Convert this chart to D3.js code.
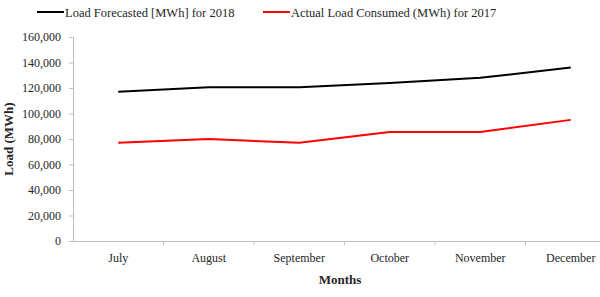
<!DOCTYPE html>
<html>
<head>
<meta charset="utf-8">
<script src="https://cdn.jsdelivr.net/npm/d3@7"></script>
<style>
body { margin: 0; background: #fff; }
text { font-family: "Liberation Serif", "DejaVu Serif", serif; fill: #262626; }
</style>
</head>
<body>
<div id="chart"></div>
<script>
var months = ["July", "August", "September", "October", "November", "December"]
var forecast2018 = [117000, 120500, 120500, 124000, 128000, 136000]
var actual2017 = [77000, 80000, 77000, 85500, 85500, 95000]
var yTicks = [0, 20000, 40000, 60000, 80000, 100000, 120000, 140000, 160000]

var w = 600, h = 297
var margin = {top: 37, right: -16, bottom: 56, left: 73}
var width = w - margin.left - margin.right
var height = h - margin.top - margin.bottom

var svg = d3.select("#chart").append("svg")
  .attr("width", w)
  .attr("height", h)

var g = svg.append("g")
  .attr("transform", "translate(" + margin.left + "," + margin.top + ")")

var x = d3.scaleBand().domain(months).range([0, width])
var y = d3.scaleLinear().domain([0, 160000]).range([height, 0])

// y axis
var yAxis = g.append("g")
  .call(d3.axisLeft(y).tickValues(yTicks).tickSize(4).tickFormat(d3.format(",")))
yAxis.attr("font-family", null)
yAxis.selectAll("path, line").attr("stroke", "#bfbfbf")
yAxis.selectAll("text").attr("font-size", 12).attr("dx", "-5px").attr("fill", "#404040")

// x axis
var xAxis = g.append("g")
  .attr("transform", "translate(0," + height + ")")
  .call(d3.axisBottom(x).tickSize(0).tickPadding(12))
xAxis.attr("font-family", null)
xAxis.select("path").attr("stroke", "#bfbfbf")
xAxis.selectAll("text").attr("font-size", 12).attr("fill", "#404040")
xAxis.selectAll(".sep").data(months.slice(1)).enter().append("line")
  .attr("x1", d => x(d)).attr("x2", d => x(d))
  .attr("y1", 0).attr("y2", 4)
  .attr("stroke", "#bfbfbf")

var line = d3.line()
  .x((d, i) => x(months[i]) + x.bandwidth() / 2)
  .y(d => y(d))

g.append("path").datum(forecast2018)
  .attr("fill", "none").attr("stroke", "#000").attr("stroke-width", 2)
  .attr("stroke-linejoin", "round")
  .attr("d", line)

g.append("path").datum(actual2017)
  .attr("fill", "none").attr("stroke", "#ff0000").attr("stroke-width", 2)
  .attr("stroke-linejoin", "round")
  .attr("d", line)

// axis titles
svg.append("text")
  .attr("transform", "translate(13," + (margin.top + height / 2) + ") rotate(-90)")
  .attr("text-anchor", "middle")
  .attr("font-size", 13).attr("font-weight", "bold")
  .text("Load (MWh)")

svg.append("text")
  .attr("x", 340).attr("y", 284)
  .attr("text-anchor", "middle")
  .attr("font-size", 13).attr("font-weight", "bold")
  .text("Months")

// legend
var legend = [
  {name: "Load Forecasted [MWh] for 2018", color: "#000", x: 37},
  {name: "Actual Load Consumed (MWh) for 2017", color: "#ff0000", x: 263}
]
var lg = svg.selectAll(".legend").data(legend).enter().append("g")
  .attr("transform", d => "translate(" + d.x + ",12)")
lg.append("line").attr("x1", 0).attr("x2", 27).attr("y1", 0).attr("y2", 0)
  .attr("stroke", d => d.color).attr("stroke-width", 2)
lg.append("text").attr("x", 28).attr("y", 4.5)
  .attr("font-size", 12.5)
  .text(d => d.name)
</script>
</body>
</html>
